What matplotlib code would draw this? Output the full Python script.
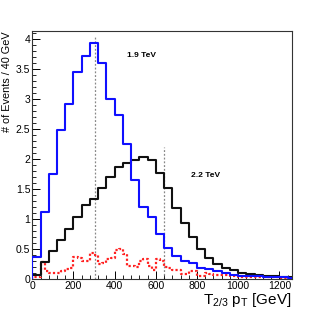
import numpy as np
import matplotlib
matplotlib.use("Agg")
import matplotlib.pyplot as plt
from matplotlib.ticker import MultipleLocator, FuncFormatter

plt.rcParams['font.family'] = ['Liberation Sans', 'DejaVu Sans']
plt.rcParams['mathtext.fontset'] = 'custom'
plt.rcParams['mathtext.rm'] = 'Liberation Sans'
plt.rcParams['mathtext.it'] = 'Liberation Sans'

# 40 GeV bins, 0..1280
edges40 = np.arange(0, 1281, 40)
blue_vals = [0.37, 1.12, 1.76, 2.48, 2.91, 3.45, 3.72, 3.93, 3.60, 3.00, 2.74, 2.25,
             1.66, 1.21, 1.04, 0.75, 0.52, 0.39, 0.30, 0.27, 0.19, 0.17, 0.13, 0.10,
             0.07, 0.06, 0.05, 0.05, 0.04, 0.03, 0.03, 0.02]
black_vals = [0.07, 0.29, 0.47, 0.65, 0.83, 1.04, 1.23, 1.34, 1.52, 1.71, 1.87, 1.93,
              1.99, 2.03, 1.98, 1.77, 1.52, 1.18, 0.93, 0.70, 0.50, 0.36, 0.26, 0.19,
              0.15, 0.11, 0.08, 0.07, 0.06, 0.05, 0.04, 0.03]
# 20 GeV bins, 0..1280
edges20 = np.arange(0, 1281, 20)
red_vals = [0.04, 0.04, 0.28, 0.14, 0.11, 0.11, 0.11, 0.13, 0.17, 0.18,
            0.37, 0.36, 0.30, 0.30, 0.43, 0.40, 0.26, 0.27, 0.33, 0.36,
            0.48, 0.50, 0.42, 0.22, 0.22, 0.20, 0.30, 0.34, 0.22, 0.15,
            0.33, 0.31, 0.20, 0.18, 0.15, 0.15, 0.09, 0.09, 0.13, 0.13,
            0.06, 0.06, 0.10, 0.09, 0.07, 0.07, 0.07, 0.07, 0.05, 0.05,
            0.04, 0.04, 0.04, 0.04, 0.03, 0.03, 0.03, 0.03, 0.03, 0.03,
            0.02, 0.02, 0.02, 0.02]
marker_x = [305, 638]
marker_top = [4.04, 2.20]
labels = ["1.9 TeV", "2.2 TeV"]
label_pos = [(460, 3.72), (770, 1.72)]

fig = plt.figure(figsize=(3.24, 3.11), dpi=100)
ax = fig.add_axes([0.0997, 0.102, 0.8006, 0.798])

def step(ax, edges, vals, **kw):
    x = np.repeat(edges, 2)[1:-1]
    y = np.repeat(vals, 2)
    x = np.concatenate([[edges[0]], x, [edges[-1]]])
    y = np.concatenate([[0], y, [0]])
    ax.plot(x, y, **kw)

for xm, yt in zip(marker_x, marker_top):
    ax.plot([xm, xm], [0, yt], color='#888888', lw=0.9, ls=(0, (1.5, 1.5)), zorder=1)

step(ax, edges20, red_vals, color='#ff2020', lw=1.6, ls=(0, (1, 1)), zorder=2)
step(ax, edges40, black_vals, color='#111111', lw=1.5, zorder=3)
step(ax, edges40, blue_vals, color='#1010ff', lw=1.5, zorder=4)

for t, (px, py) in zip(labels, label_pos):
    ax.text(px, py, t, fontsize=6, fontweight='bold', ha='left', va='center')

ax.set_xlim(0, 1260)
ax.set_ylim(0, 4.13)
ax.xaxis.set_major_locator(MultipleLocator(200))
ax.xaxis.set_minor_locator(MultipleLocator(40))
ax.yaxis.set_major_locator(MultipleLocator(0.5))
ax.yaxis.set_minor_locator(MultipleLocator(0.1))
ax.yaxis.set_major_formatter(FuncFormatter(lambda v, p: ('%g' % v)))
ax.tick_params(which='both', direction='in', top=False, right=False, labelsize=7.5, pad=1.5)
ax.tick_params(which='major', length=6, width=0.7)
ax.tick_params(which='minor', length=3, width=0.6)
for s in ax.spines.values():
    s.set_linewidth(0.8)
    s.set_color('#333333')

fig.text(0.006, 0.90, '# of Events / 40 GeV', rotation=90, ha='left', va='top', fontsize=7.8)
fig.text(0.90, 0.006, r'T$_{2/3}$ p$_{\rm T}$ [GeV]', ha='right', va='bottom', fontsize=11)

fig.savefig('out.png', dpi=100)
